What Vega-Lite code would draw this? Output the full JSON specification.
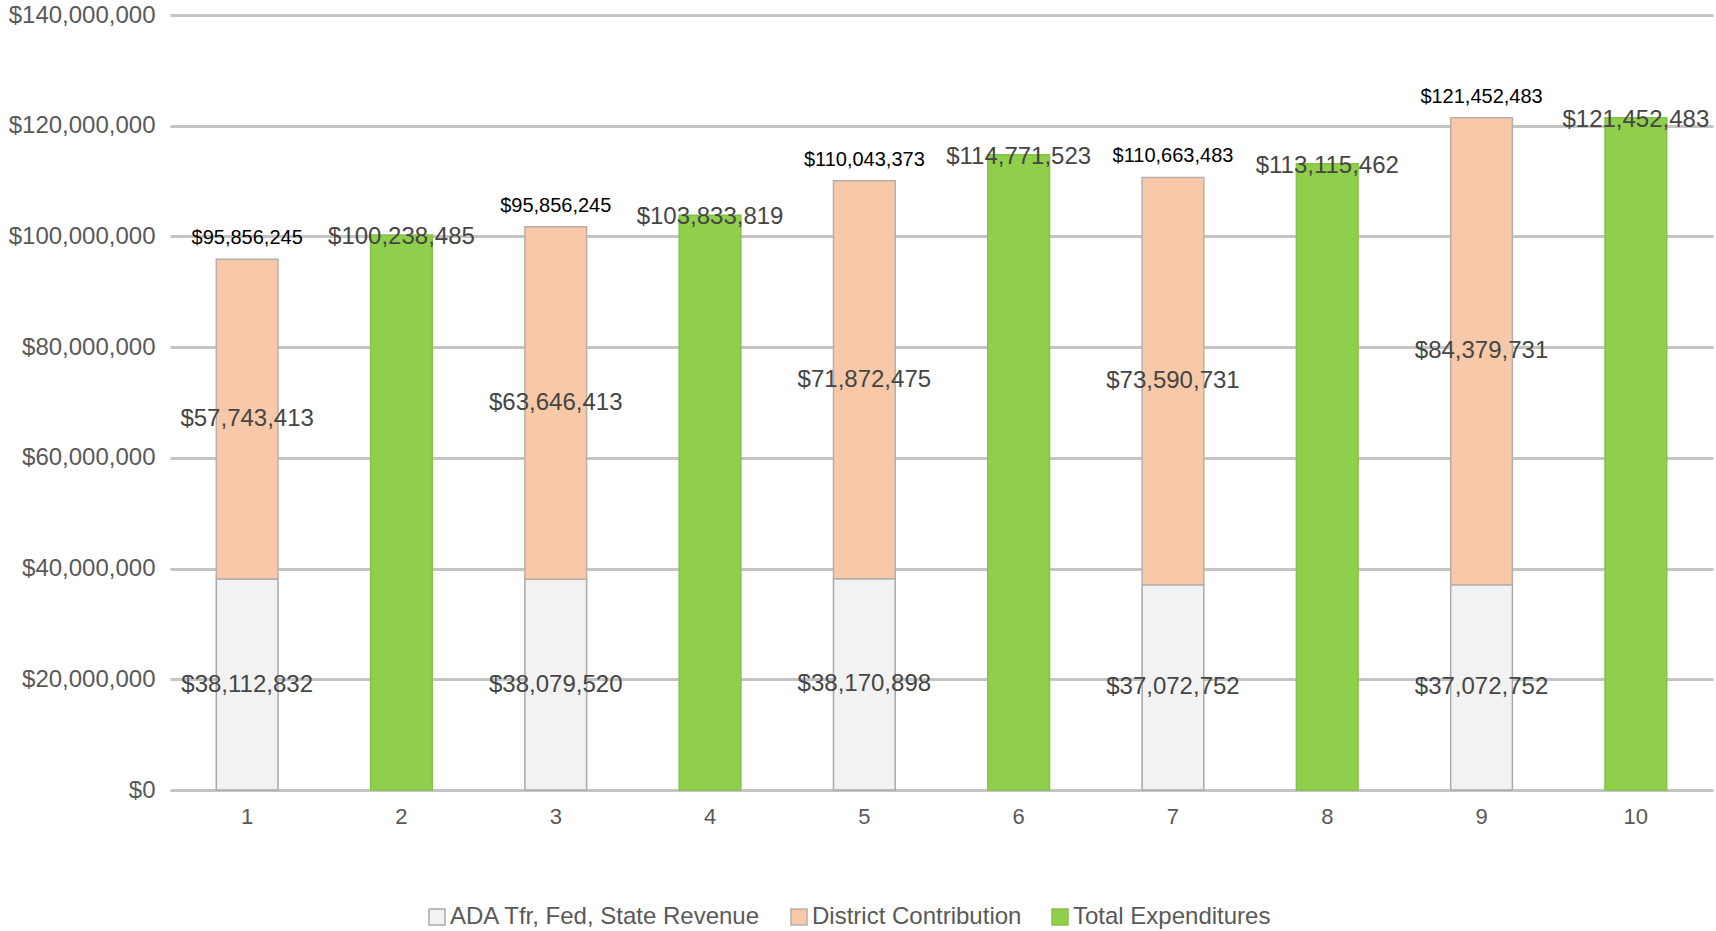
{
  "$schema": "https://vega.github.io/schema/vega-lite/v6.json",
  "width": 1543,
  "height": 775,
  "autosize": "none",
  "padding": {"left": 170, "top": 15, "right": 3, "bottom": 141},
  "background": "white",
  "config": {
    "view": {"stroke": null},
    "font": "Liberation Sans"
  },
  "data": {
    "values": [
      {"bar": 1, "series": "ADA Tfr, Fed, State Revenue", "amount": 38112832},
      {"bar": 1, "series": "District Contribution", "amount": 57743413, "total_label": "$95,856,245"},
      {"bar": 2, "series": "Total Expenditures", "amount": 100238485},
      {"bar": 3, "series": "ADA Tfr, Fed, State Revenue", "amount": 38079520},
      {"bar": 3, "series": "District Contribution", "amount": 63646413, "total_label": "$95,856,245"},
      {"bar": 4, "series": "Total Expenditures", "amount": 103833819},
      {"bar": 5, "series": "ADA Tfr, Fed, State Revenue", "amount": 38170898},
      {"bar": 5, "series": "District Contribution", "amount": 71872475, "total_label": "$110,043,373"},
      {"bar": 6, "series": "Total Expenditures", "amount": 114771523},
      {"bar": 7, "series": "ADA Tfr, Fed, State Revenue", "amount": 37072752},
      {"bar": 7, "series": "District Contribution", "amount": 73590731, "total_label": "$110,663,483"},
      {"bar": 8, "series": "Total Expenditures", "amount": 113115462},
      {"bar": 9, "series": "ADA Tfr, Fed, State Revenue", "amount": 37072752},
      {"bar": 9, "series": "District Contribution", "amount": 84379731, "total_label": "$121,452,483"},
      {"bar": 10, "series": "Total Expenditures", "amount": 121452483}
    ]
  },
  "transform": [
    {"stack": "amount", "groupby": ["bar"], "sort": [{"field": "series", "order": "ascending"}], "as": ["lo", "hi"]},
    {"calculate": "(datum.lo + datum.hi) / 2", "as": "mid"}
  ],
  "encoding": {
    "x": {
      "field": "bar",
      "type": "ordinal",
      "scale": {"paddingInner": 0.6, "paddingOuter": 0.3},
      "axis": {
        "title": null,
        "labelAngle": 0,
        "labelFontSize": 22,
        "labelColor": "#595959",
        "labelPadding": 16,
        "domain": false,
        "ticks": false
      }
    }
  },
  "layer": [
    {
      "mark": {"type": "bar", "strokeWidth": 1.5},
      "encoding": {
        "y": {
          "field": "hi",
          "type": "quantitative",
          "scale": {"domain": [0, 140000000], "nice": false},
          "axis": {
            "title": null,
            "values": [0, 20000000, 40000000, 60000000, 80000000, 100000000, 120000000, 140000000],
            "format": "$,.0f",
            "labelFontSize": 24,
            "labelColor": "#595959",
            "labelPadding": 15,
            "grid": true,
            "gridColor": "#c4c4c4",
            "gridWidth": 3,
            "domain": false,
            "ticks": false
          }
        },
        "y2": {"field": "lo"},
        "color": {
          "field": "series",
          "type": "nominal",
          "scale": {
            "domain": ["ADA Tfr, Fed, State Revenue", "District Contribution", "Total Expenditures"],
            "range": ["#f2f2f2", "#f7c9a8", "#8fcf4c"]
          },
          "legend": {
            "title": null,
            "orient": "none",
            "direction": "horizontal",
            "legendX": 255,
            "legendY": 890,
            "symbolType": "square",
            "symbolSize": 256,
            "symbolStrokeColor": "#a6a6a6",
            "symbolStrokeWidth": 1.5,
            "labelFontSize": 24,
            "labelColor": "#595959",
            "labelOffset": 1,
            "labelLimit": 0,
            "columnPadding": 26
          }
        },
        "stroke": {
          "field": "series",
          "type": "nominal",
          "scale": {
            "domain": ["ADA Tfr, Fed, State Revenue", "District Contribution", "Total Expenditures"],
            "range": ["#a9a9a9", "#b8b0a8", "#86c247"]
          },
          "legend": null
        }
      }
    },
    {
      "transform": [{"filter": "datum.series !== 'Total Expenditures'"}],
      "mark": {"type": "text", "fontSize": 24, "color": "#454545", "baseline": "middle"},
      "encoding": {
        "y": {"field": "mid", "type": "quantitative"},
        "text": {"field": "amount", "type": "quantitative", "format": "$,.0f"}
      }
    },
    {
      "transform": [{"filter": "datum.series === 'Total Expenditures'"}],
      "mark": {"type": "text", "fontSize": 24, "color": "#454545", "baseline": "middle", "dy": 2},
      "encoding": {
        "y": {"field": "hi", "type": "quantitative"},
        "text": {"field": "amount", "type": "quantitative", "format": "$,.0f"}
      }
    },
    {
      "transform": [{"filter": "datum.total_label != null"}],
      "mark": {"type": "text", "fontSize": 20, "font": "Liberation Sans", "color": "#000000", "baseline": "middle", "dy": -21},
      "encoding": {
        "y": {"field": "hi", "type": "quantitative"},
        "text": {"field": "total_label", "type": "nominal"}
      }
    }
  ]
}
